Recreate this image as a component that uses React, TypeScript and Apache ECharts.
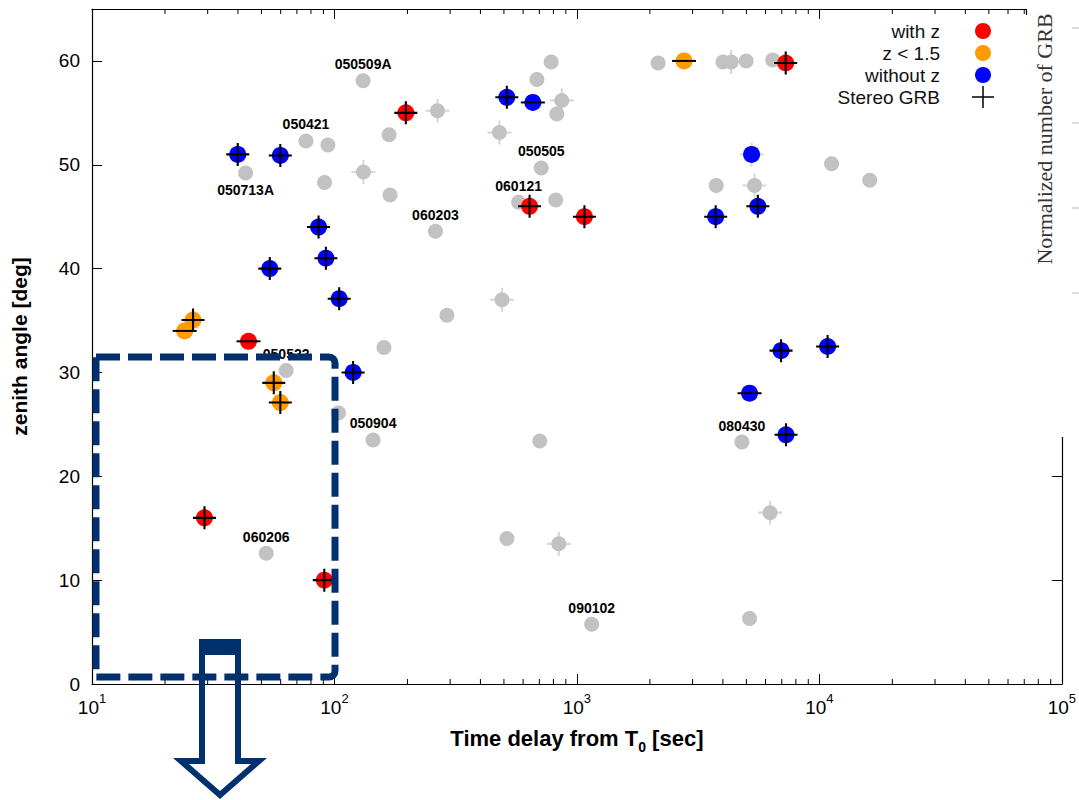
import React, { useEffect, useRef } from 'react';
import * as echarts from 'echarts';

// ---- data (time delay [s], zenith angle [deg]) ----
const redPoints: number[][] = [[197, 55], [638, 46], [1074, 45], [7265, 59.8], [44.2, 33], [29.1, 16], [90.8, 10]];
const redStereo = ['+', '+', '+', '+', '-', '+', '+'];

const orangePoints: number[][] = [[2766, 60], [26.1, 35.05], [24.1, 34], [56.2, 29], [59.8, 27.1]];
const orangeStereo = ['-', '+', '-', '+', '+'];

const bluePoints: number[][] = [
  [39.9, 51], [59.8, 50.9], [86, 44], [92.2, 41], [54.1, 40], [104.6, 37.1], [119.4, 30],
  [514, 56.5], [658, 56], [5253, 51], [5574, 46], [3735, 45], [6950, 32.1], [10814, 32.5],
  [5153, 28], [7285, 24],
];
const blueStereo = ['+', '+', '+', '+', '+', '+', '+', '+', '-', '', '+', '+', '+', '+', '-', '+'];
const blueErrorBar = [0, 0, 0, 0, 0, 0, 0, 0, 0, 1, 0, 0, 0, 0, 0, 0];

const grayPoints: number[][] = [
  [43, 49.2], [76.3, 52.3], [94, 51.9], [91, 48.3], [131.3, 58.1], [131.7, 49.3], [168, 52.9],
  [169.5, 47.1], [266, 55.2], [261, 43.6], [783, 59.9], [684, 58.2], [866, 56.2], [826, 54.9],
  [479, 53.1], [713, 49.7], [575, 46.4], [818, 46.6], [2163, 59.8], [4003, 59.9], [4329, 59.9],
  [4989, 60], [6424, 60.1], [3755, 48], [5403, 48], [11230, 50.1], [16140, 48.5], [491, 37],
  [291, 35.5], [160, 32.4], [63.2, 30.2], [103.9, 26.1], [144.3, 23.5], [703, 23.4], [4791, 23.3],
  [6262, 16.5], [52.3, 12.6], [514.5, 14], [842, 13.5], [1151, 5.75], [5153, 6.3],
];
const grayNames = [
  '050713A', '050421', '', '', '050509A', '', '', '', '', '060203', '', '', '', '', '',
  '050505', '060121', '', '', '', '', '', '', '', '', '', '', '', '', '', '050522', '', '050904',
  '', '080430', '', '060206', '', '', '090102', '',
];
const grayErrorBar = [
  0, 0, 0, 0, 0, 1, 0, 0, 1, 0, 0, 0, 1, 0, 1, 0, 0, 0, 0, 0, 1, 0, 0, 0, 1, 0, 0, 1, 0, 0,
  0, 0, 0, 0, 0, 1, 0, 0, 1, 0, 0,
];

const xMin = 10;
const xMax = 100000;
const yMin = 0;
const yMax = 65;
const minorMultipliers = [2, 3, 4, 5, 6, 7, 8, 9];
const minorDecades = [10, 100, 1000, 10000];

const legendLabels = ['with z', 'z < 1.5', 'without z', 'Stereo GRB'];
const legendColors = ['#ff0000', '#ff9a00', '#0000ff', ''];

const FONT = "'Liberation Sans', Arial, Helvetica, sans-serif";
const NAVY = '#00306e';
const PLUS = 'path://M9.1,0H10.9V9.1H20V10.9H10.9V20H9.1V10.9H0V9.1H9.1Z';
const BAR = 'path://M0,0H20V2H0Z';

export default function App() {
  const ref = useRef<HTMLDivElement>(null);

  useEffect(() => {
    if (!ref.current) return;
    const chart = echarts.init(ref.current, undefined, { renderer: 'svg' });

    const stereoPlus: number[][] = [];
    const stereoBar: number[][] = [];
    const collect = (pts: number[][], flags: string[]) => {
      pts.forEach((p, i) => {
        if (flags[i] === '+') stereoPlus.push(p);
        else if (flags[i] === '-') stereoBar.push(p);
      });
    };
    collect(redPoints, redStereo);
    collect(orangePoints, orangeStereo);
    collect(bluePoints, blueStereo);

    const faint: number[][] = [
      ...grayPoints.filter((_, i) => grayErrorBar[i]),
      ...bluePoints.filter((_, i) => blueErrorBar[i]),
    ];

    const minorTicks: number[][] = [];
    minorDecades.forEach((d) => minorMultipliers.forEach((m) => minorTicks.push([d * m, 0])));

    const grayData = grayPoints.map((p, i) => ({
      value: p,
      name: grayNames[i],
      label: grayNames[i]
        ? { show: true, position: i === 0 ? 'bottom' : 'top', distance: 2 }
        : { show: false },
    }));

    const legendGraphics: any[] = [];
    legendLabels.forEach((t, i) => {
      const y = 31 + i * 22;
      legendGraphics.push({
        type: 'text', x: 940, y, z: 100,
        style: { text: t, fontSize: 19, fontFamily: FONT, fill: '#111', align: 'right', verticalAlign: 'middle' },
      });
      if (legendColors[i]) {
        legendGraphics.push({ type: 'circle', z: 100, shape: { cx: 983, cy: y, r: 8 }, style: { fill: legendColors[i] } });
      } else {
        legendGraphics.push({ type: 'line', z: 100, shape: { x1: 972, y1: y, x2: 994, y2: y }, style: { stroke: '#000', lineWidth: 1.5 } });
        legendGraphics.push({ type: 'line', z: 100, shape: { x1: 983, y1: y - 11, x2: 983, y2: y + 11 }, style: { stroke: '#000', lineWidth: 1.5 } });
      }
    });

    const overlayTicks = [28, 123, 208, 293].map((y) => ({
      type: 'line', z: 101, shape: { x1: 1072, y1: y, x2: 1079, y2: y }, style: { stroke: '#bbb', lineWidth: 1 },
    }));

    const axisLine = { show: true, onZero: false, lineStyle: { color: '#000', width: 1.2 } };
    const axisTick = { show: true, inside: true, length: 10, lineStyle: { color: '#000', width: 1 } };
    const solid = (color: string) => ({ color, opacity: 1 });

    chart.setOption({
      animation: false,
      backgroundColor: '#fff',
      textStyle: { fontFamily: FONT },
      grid: { left: 92, right: 14, top: 9, bottom: 116, containLabel: false },
      xAxis: [
        {
          type: 'log', logBase: 10, min: xMin, max: xMax, position: 'bottom',
          axisLine, axisTick, splitLine: { show: false },
          axisLabel: {
            margin: 8,
            formatter: (v: number) => `{b|10}{s|${Math.round(Math.log10(v))}}`,
            rich: {
              b: { fontSize: 19, lineHeight: 30, fontFamily: FONT, color: '#000' },
              s: { fontSize: 13, verticalAlign: 'top', fontFamily: FONT, color: '#000' },
            },
          },
          name: '{t|Time delay from T}{u|0}{t| [sec]}',
          nameLocation: 'middle', nameGap: 38,
          nameTextStyle: {
            rich: {
              t: { fontSize: 22, fontWeight: 'bold', lineHeight: 32, fontFamily: FONT, color: '#000' },
              u: { fontSize: 14, fontWeight: 'bold', verticalAlign: 'bottom', fontFamily: FONT, color: '#000' },
            },
          },
        },
        {
          type: 'log', logBase: 10, min: xMin, max: xMax, position: 'top',
          axisLine, axisTick, splitLine: { show: false }, axisLabel: { show: false },
        },
      ],
      yAxis: [
        {
          type: 'value', min: yMin, max: yMax, interval: 10, position: 'left',
          axisLine, axisTick, splitLine: { show: false },
          axisLabel: { fontSize: 19, margin: 12, color: '#000', fontFamily: FONT, showMaxLabel: false },
          name: 'zenith angle [deg]', nameLocation: 'middle', nameGap: 62, nameRotate: 90,
          nameTextStyle: { fontSize: 21, fontWeight: 'bold', color: '#000', fontFamily: FONT },
        },
        {
          type: 'value', min: yMin, max: yMax, interval: 10, position: 'right',
          axisLine, axisTick, splitLine: { show: false }, axisLabel: { show: false },
        },
      ],
      series: [
        {
          type: 'custom', name: 'minor ticks', silent: true, clip: false,
          xAxisIndex: 0, yAxisIndex: 0, data: minorTicks, z: 5,
          renderItem: (_params: any, api: any) => {
            const v = api.value(0);
            const b = api.coord([v, yMin]);
            const t = api.coord([v, yMax]);
            return {
              type: 'group',
              children: [
                { type: 'line', shape: { x1: b[0], y1: b[1], x2: b[0], y2: b[1] - 5 }, style: { stroke: '#000', lineWidth: 1 } },
                { type: 'line', shape: { x1: t[0], y1: t[1], x2: t[0], y2: t[1] + 5 }, style: { stroke: '#000', lineWidth: 1 } },
              ],
            };
          },
        },
        {
          type: 'scatter', name: 'error', silent: true, data: faint, symbol: PLUS, symbolSize: 24,
          itemStyle: solid('#d8d8d8'), z: 2,
        },
        {
          type: 'scatter', name: 'all GRB', silent: true, data: grayData, symbol: 'circle', symbolSize: 15,
          itemStyle: solid('#c2c2c2'), z: 3,
          label: {
            formatter: (p: any) => p.name, fontSize: 14, fontWeight: 'bold', color: '#000', fontFamily: FONT,
          },
        },
        { type: 'scatter', name: 'with z', data: redPoints, symbol: 'circle', symbolSize: 17, itemStyle: solid('#ff0000'), z: 4 },
        { type: 'scatter', name: 'z < 1.5', data: orangePoints, symbol: 'circle', symbolSize: 17, itemStyle: solid('#ff9a00'), z: 4 },
        { type: 'scatter', name: 'without z', data: bluePoints, symbol: 'circle', symbolSize: 17, itemStyle: solid('#0000ff'), z: 4 },
        { type: 'scatter', name: 'Stereo GRB', data: stereoPlus, symbol: PLUS, symbolSize: 23, itemStyle: solid('#000'), z: 6 },
        {
          type: 'scatter', name: 'Stereo GRB bar', data: stereoBar, symbol: BAR, symbolSize: [24, 2], symbolKeepAspect: false,
          itemStyle: solid('#000'), z: 6,
        },
      ],
      graphic: [
        // dashed selection box
        {
          type: 'rect', z: 100, shape: { x: 96, y: 357, width: 239, height: 320, r: [0, 6, 6, 0] },
          style: { fill: 'none', stroke: NAVY, lineWidth: 7, lineDash: [24, 8] },
        },
        // arrow
        { type: 'rect', z: 100, shape: { x: 199, y: 639, width: 42, height: 16 }, style: { fill: NAVY } },
        {
          type: 'polyline', z: 100,
          shape: { points: [[202, 655], [202, 761], [181, 761], [220, 795], [259, 761], [238, 761], [238, 655]] },
          style: { fill: 'none', stroke: NAVY, lineWidth: 6, lineJoin: 'miter' },
        },
        // pasted right panel
        { type: 'rect', z: 99, shape: { x: 1027, y: 0, width: 52, height: 437 }, style: { fill: '#fff' } },
        { type: 'line', z: 100, shape: { x1: 1026.5, y1: 9, x2: 1026.5, y2: 15 }, style: { stroke: '#000', lineWidth: 1.2 } },
        {
          type: 'text', z: 100, x: 1044, y: 139, rotation: Math.PI / 2,
          style: {
            text: 'Normalized number of GRB', fontSize: 22, fontFamily: "'Liberation Serif', 'DejaVu Serif', serif",
            fill: '#333', align: 'center', verticalAlign: 'middle',
          },
        },
        ...overlayTicks,
        ...legendGraphics,
      ],
    });

    return () => chart.dispose();
  }, []);

  return <div ref={ref} style={{ position: 'fixed', left: 0, top: 0, width: 1079, height: 800 }} />;
}
